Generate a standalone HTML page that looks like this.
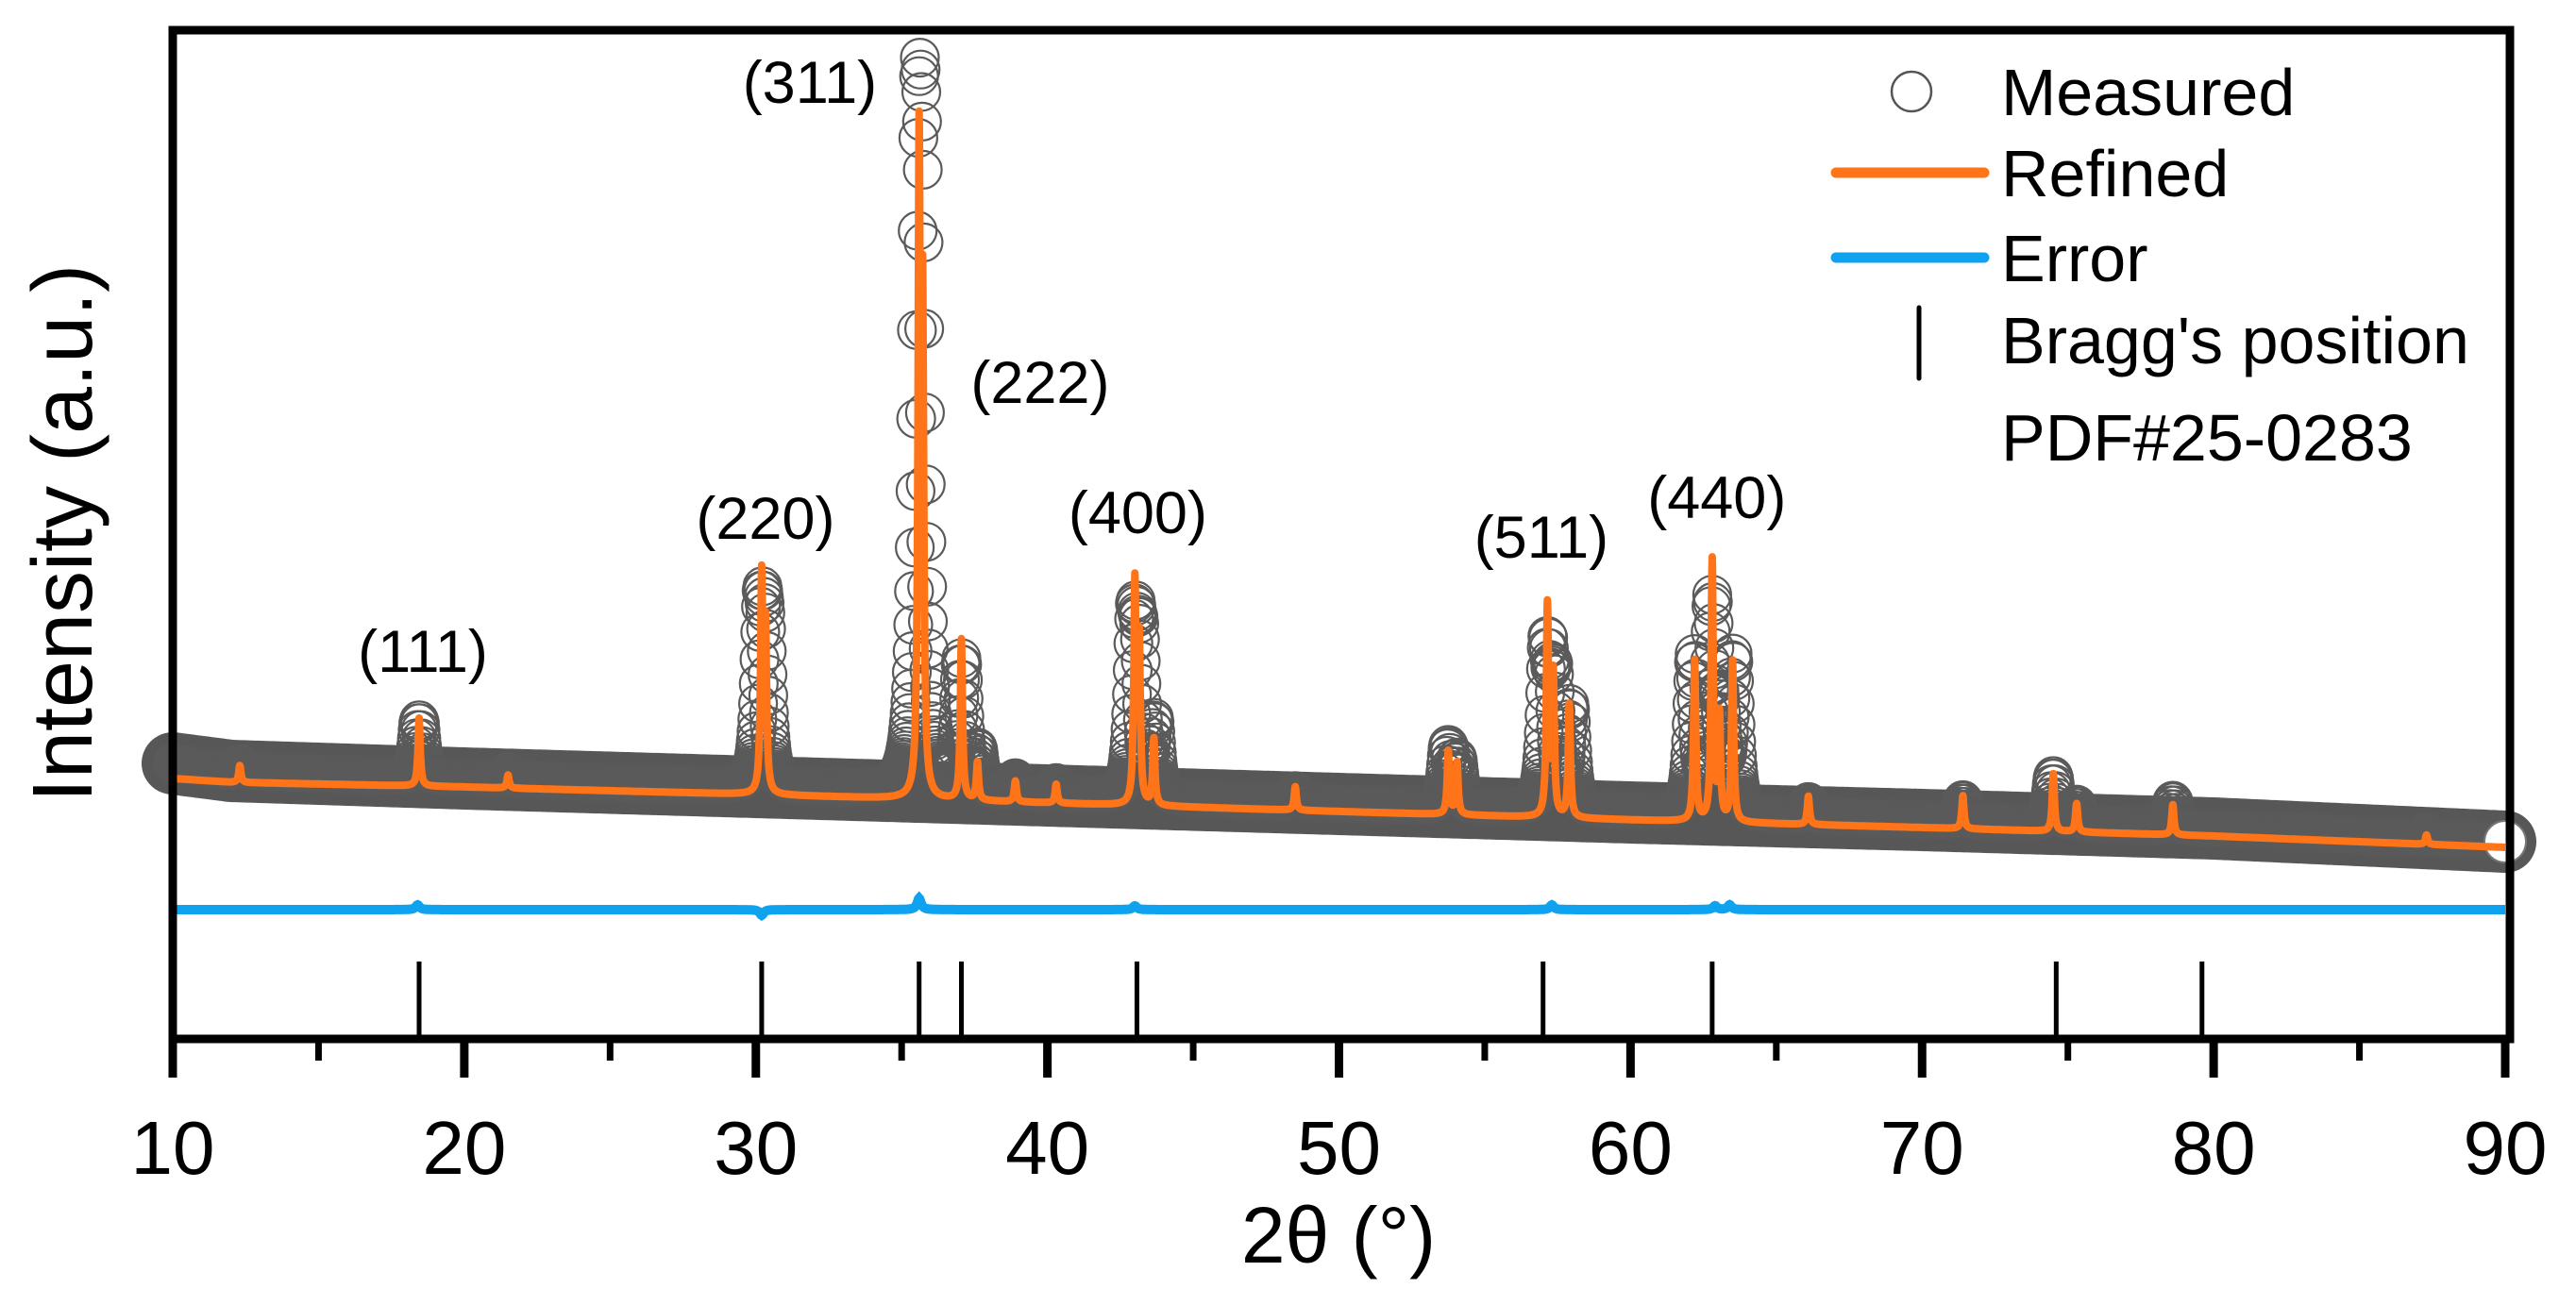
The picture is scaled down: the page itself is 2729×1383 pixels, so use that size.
<!DOCTYPE html>
<html><head><meta charset="utf-8"><style>
html,body{margin:0;padding:0;background:#fff;}
svg{display:block;font-family:"Liberation Sans",Arial,sans-serif;}
</style></head><body>
<svg id="chart" width="2729" height="1383" viewBox="0 0 2729 1383" xmlns="http://www.w3.org/2000/svg">
<g id="plot"></g>
<g id="axes"></g>
<text x="0" y="0" font-size="90" text-anchor="middle" transform="translate(97,565) rotate(-90)">Intensity (a.u.)</text>
<text x="1418" y="1338" font-size="84" text-anchor="middle">2θ (°)</text>
<g>
<circle cx="2025" cy="97" r="21" fill="none" stroke="#555" stroke-width="2.5"/>
<text x="2120" y="122" font-size="70">Measured</text>
<line x1="1945" y1="183" x2="2102" y2="183" stroke="#ff7418" stroke-width="11" stroke-linecap="round"/>
<text x="2120" y="208" font-size="70">Refined</text>
<line x1="1945" y1="273" x2="2102" y2="273" stroke="#0fa2ef" stroke-width="11" stroke-linecap="round"/>
<text x="2120" y="298" font-size="70">Error</text>
<line x1="2033" y1="326" x2="2033" y2="401" stroke="#000" stroke-width="5" stroke-linecap="round"/>
<text x="2120" y="385" font-size="70">Bragg's position</text>
<text x="2120" y="488" font-size="70">PDF#25-0283</text>
</g>
</svg>
<script>
// ---- data ----
const bgX = [10, 12, 20, 30, 40, 50, 60, 70, 80, 90];
const bgVals = [276, 272, 267, 259, 250, 241, 232, 224, 215, 203];
const measOffset = [16, 12, 9, 8, 8, 8, 8, 8, 8, 6];
const peakPos = [12.3, 18.45, 21.5, 30.2, 30.33, 35.6, 35.72, 37.05, 37.6, 38.9, 40.3, 43.0, 43.15, 43.65, 48.5, 53.75, 54.05, 57.15, 57.35, 57.9, 62.2, 62.8, 63.05, 63.5, 66.1, 71.4, 74.5, 75.3, 78.6, 87.3];
const peakHeights = [18, 72, 14, 225, 170, 668, 495, 170, 40, 22, 20, 232, 170, 70, 25, 67, 55, 223, 150, 120, 170, 276, 110, 170, 30, 35, 61, 30, 32, 10];
const measHeights = [8, 60, 8, 160, 115, 570, 410, 135, 40, 15, 12, 160, 125, 75, 12, 60, 45, 155, 115, 105, 160, 210, 85, 160, 15, 22, 50, 20, 28, 6];
const braggPos = [18.45, 30.2, 35.6, 37.05, 43.07, 57.0, 62.8, 74.6, 79.6, 90.1];
const errPos = [18.4, 30.2, 35.6, 43.0, 57.3, 62.9, 63.4];
const errAmp = [5, -6, 12, 4, 5, 4, 5];
const xTicks = [10, 20, 30, 40, 50, 60, 70, 80, 90];
const xTickLabels = ["10", "20", "30", "40", "50", "60", "70", "80", "90"];
const hkl = ["(111)", "(220)", "(311)", "(222)", "(400)", "(511)", "(440)"];
const hklX = [18.58, 30.33, 31.85, 39.75, 43.1, 56.94, 62.96];
const hklI = [409, 550, 1012, 694, 556, 530, 572];

// ---- scales ----
const X0 = 183, X1 = 2654, YB = 1101;
function sx(d){ return X0 + (d - 10) * (X1 - X0) / 80; }
function sy(v){ return YB - v; }
function interp(xs, ys, x){
  if (x <= xs[0]) return ys[0];
  for (let i = 1; i < xs.length; i++) if (x <= xs[i]) { const t = (x - xs[i-1]) / (xs[i] - xs[i-1]); return ys[i-1] + t * (ys[i] - ys[i-1]); }
  return ys[ys.length-1];
}
function prof(x, hs, w){
  let s = 0;
  for (let i = 0; i < peakPos.length; i++){ const u = (x - peakPos[i]) / (w/2); s += hs[i] / (1 + u*u); }
  return s;
}
const NS = "http://www.w3.org/2000/svg";
function el(tag, attrs, parent){ const e = document.createElementNS(NS, tag); for (const k in attrs) e.setAttribute(k, attrs[k]); parent.appendChild(e); return e; }
const plot = document.getElementById('plot');
const axes = document.getElementById('axes');

// measured band
let bd = "";
for (let x = 10; x <= 90.001; x += 0.1){ const v = interp(bgX, bgVals, x) + interp(bgX, measOffset, x); bd += (bd ? "L" : "M") + sx(x).toFixed(1) + " " + sy(v).toFixed(1); }
const band = el('path', {d: bd, fill: "none", stroke: "#575757", "stroke-width": 66, "stroke-linejoin": "round", "stroke-linecap": "round"}, plot);



// measured circles
const mg = el('g', {fill: "none", stroke: "#5a5a5a", "stroke-width": 2.2}, plot);


for (let x = 10; x <= 90.001; x += 0.025){
  const v = interp(bgX, bgVals, x) + interp(bgX, measOffset, x) + prof(x, measHeights, 0.22);
  const c = el('circle', {cx: sx(x).toFixed(1), cy: sy(v).toFixed(1), r: 20}, mg);
  
  
}
const lastC = el('circle', {cx: sx(90), cy: sy(interp(bgX, bgVals, 90) + 6), r: 22, fill: "#fff", stroke: "#777", "stroke-width": 2}, plot);



// refined
let rd = "";
for (let x = 10; x <= 90.001; x += 0.01){ const v = interp(bgX, bgVals, x) + prof(x, peakHeights, 0.09); rd += (rd ? "L" : "M") + sx(x).toFixed(1) + " " + sy(v).toFixed(1); }
const ref = el('path', {d: rd, fill: "none", stroke: "#ff7418", "stroke-width": 8, "stroke-linejoin": "round"}, plot);



// error
let ed = "";
for (let x = 10; x <= 90.001; x += 0.02){
  let v = 0; for (let i = 0; i < errPos.length; i++){ const u = (x - errPos[i]) / 0.08; v += errAmp[i] / (1 + u*u); }
  ed += (ed ? "L" : "M") + sx(x).toFixed(1) + " " + (964 - v).toFixed(1);
}
const err = el('path', {d: ed, fill: "none", stroke: "#0fa2ef", "stroke-width": 10}, plot);



// bragg ticks
for (let i = 0; i < braggPos.length; i++){
  const b = el('line', {x1: sx(braggPos[i]), x2: sx(braggPos[i]), y1: 1019, y2: YB, stroke: "#000", "stroke-width": 5}, plot);
  
  
}

// hkl labels
for (let i = 0; i < hkl.length; i++){
  const t = el('text', {x: sx(hklX[i]).toFixed(1), y: (sy(hklI[i]) + 20).toFixed(1), "font-size": 63, "text-anchor": "middle"}, plot);
  t.textContent = hkl[i];
  
  
}

// frame
const frame = el('rect', {x: X0, y: 32, width: 2659 - X0, height: YB - 32, fill: "none", stroke: "#000", "stroke-width": 9}, axes);



// x ticks
for (let i = 0; i < xTicks.length; i++){
  const x = sx(xTicks[i]);
  const tk = el('line', {x1: x, x2: x, y1: YB, y2: 1142, stroke: "#000", "stroke-width": 9}, axes);
  
  
  const lb = el('text', {x: x, y: 1244, "font-size": 80, "text-anchor": "middle"}, axes);
  lb.textContent = xTickLabels[i];
  
  
  if (i < xTicks.length - 1){
    const xm = sx(xTicks[i] + 5);
    const mt = el('line', {x1: xm, x2: xm, y1: YB, y2: 1124, stroke: "#000", "stroke-width": 7}, axes);
    
    
  }
}
</script>
</body></html>
